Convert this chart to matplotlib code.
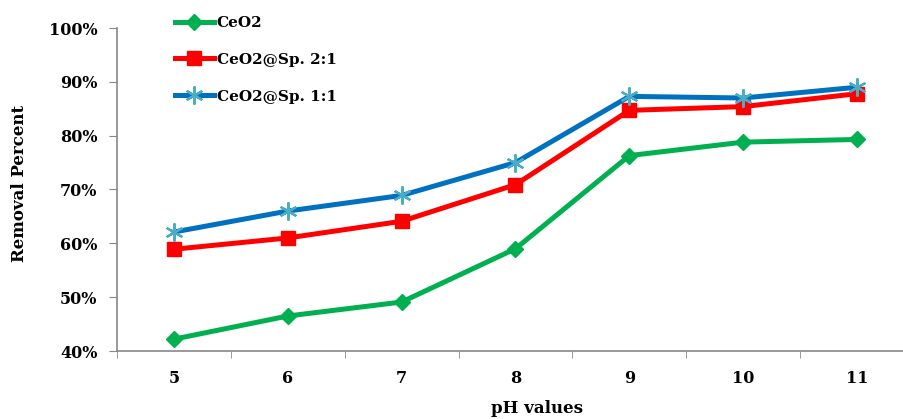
import matplotlib.pyplot as plt
from matplotlib.ticker import FixedLocator, PercentFormatter

# data
ph = [5, 6, 7, 8, 9, 10, 11]
ceo2 = [42.2, 46.5, 49.1, 59.0, 76.3, 78.8, 79.3]
ceo2_sp21 = [58.9, 61.0, 64.1, 70.9, 84.7, 85.4, 87.8]
ceo2_sp11 = [62.1, 66.0, 68.9, 75.0, 87.3, 87.0, 89.0]
series_names = ["CeO2", "CeO2@Sp. 2:1", "CeO2@Sp. 1:1"]

plt.rcParams['font.family'] = ['DejaVu Serif']
plt.rcParams['font.weight'] = 'bold'

fig = plt.figure(figsize=(9.04, 4.19), dpi=100)
ax = fig.add_axes([117 / 904, 1 - 351 / 419, 797 / 904, 323 / 419])

ax.plot(ph, ceo2, color='#00b050', lw=3.6, marker='D', ms=8.5,
        label=series_names[0])
ax.plot(ph, ceo2_sp21, color='#ff0000', lw=3.6, marker='s', ms=10.5,
        label=series_names[1])
ax.plot(ph, ceo2_sp11, color='#0070c0', lw=3.6, marker=(6, 2, 0), ms=13,
        mec='#4bacc6', mew=1.6, label=series_names[2])

ax.set_xlim(4.5, 11.5)
ax.set_ylim(40, 100)
ax.set_xticks(ph)
ax.set_xticklabels([str(p) for p in ph])
ax.xaxis.set_minor_locator(FixedLocator([p - 0.5 for p in ph] + [11.5]))
ax.tick_params(axis='x', which='major', length=0, pad=14, labelsize=11.5)
ax.tick_params(axis='x', which='minor', length=5, direction='out', color='#888888')
ax.set_yticks(range(40, 101, 10))
ax.yaxis.set_major_formatter(PercentFormatter(decimals=0))
ax.tick_params(axis='y', length=6, direction='out', color='#888888', labelsize=11.5, pad=8)

for s in ['top', 'right']:
    ax.spines[s].set_visible(False)
for s in ['left', 'bottom']:
    ax.spines[s].set_color('#888888')
    ax.spines[s].set_linewidth(1.2)

ax.set_ylabel("Removal Percent", fontsize=12, fontweight='bold')
ax.yaxis.set_label_coords(-0.112, 0.52)
ax.set_xlabel("pH values", fontsize=12, fontweight='bold')
ax.xaxis.set_label_coords((537 - 117) / 797, -0.152)

ax.legend(loc='upper left', bbox_to_anchor=(0.055, 1.08), frameon=False,
          fontsize=11, handlelength=2.6, handletextpad=0.15, labelspacing=1.5)

fig.savefig("out.png", dpi=100)
